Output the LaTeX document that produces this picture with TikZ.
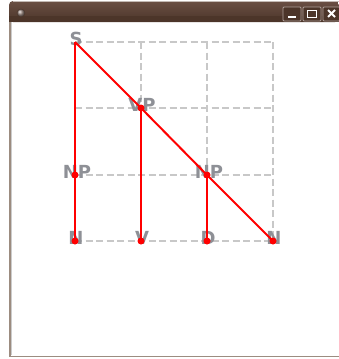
\documentclass[tikz,border=0pt]{standalone}
\usepackage{fontspec}
\setmainfont{DejaVu Sans}
\definecolor{barTop}{HTML}{6A4F44}
\definecolor{barBot}{HTML}{4C3529}
\definecolor{lblGray}{HTML}{8E9096}
\definecolor{gridGray}{HTML}{C8C8C8}
\definecolor{frameC}{HTML}{9C8C80}
\begin{document}
\begin{tikzpicture}[x=1pt,y=-1pt,
  lbl/.style={text=lblGray, font=\bfseries\fontsize{18}{18}\selectfont, inner sep=0pt},
  gridln/.style={draw=gridGray, line width=1.6pt, dash pattern=on 7pt off 3.5pt},
  edge/.style={draw=red, line width=2pt},
  dot/.style={fill=red, draw=none},
  btn/.style={draw=white!45!barTop, fill=barBot, line width=0.8pt, rounded corners=1pt}]
\useasboundingbox (0,0) rectangle (339,359);
\fill[white] (0,0) rectangle (339,359);
% window
\fill[white] (10,22) rectangle (339,357);
\draw[frameC, line width=1.2pt] (10,22) -- (10,356.5) -- (339,356.5);
\draw[gray!40, line width=0.8pt] (11.8,22) -- (11.8,355);
\shade[top color=barTop, bottom color=barBot, rounded corners=4pt]
  (9,1) rectangle (339,22);
\fill[barBot] (9,16) rectangle (339,22);
\draw[white!60!barTop, line width=0.6pt] (13,1.5) -- (339,1.5);
\shade[ball color=barTop!70!white, draw=barBot] (21,13) circle (4);
\draw[btn] (283,7) rectangle (301,21);
\draw[btn] (303,7) rectangle (321,21);
\draw[btn] (323,7) rectangle (340,21);
\draw[white, line width=1.6pt] (288,17) -- (296,17);
\draw[white, line width=1.3pt] (307.5,10.5) rectangle (316.5,17.5);
\draw[white, line width=1.8pt] (328,10) -- (335,17) (328,17) -- (335,10);
% grid
\foreach \yy in {42,108,175,241} \draw[gridln] (75,\yy) -- (273,\yy);
\foreach \xx in {141,207,273} \draw[gridln] (\xx,42) -- (\xx,241);
% nodes
\coordinate (S) at (75,42);
\coordinate (VP) at (141,108);
\coordinate (NP1) at (75,175);
\coordinate (NP2) at (207,175);
\coordinate (N1) at (75,241);
\coordinate (V) at (141,241);
\coordinate (D) at (207,241);
\coordinate (N2) at (273,241);
\node[lbl] (tS) at (76,39) {S};
\node[lbl] (tVP) at (142,105) {VP};
\node[lbl] (tNP1) at (77,172) {NP};
\node[lbl] (tNP2) at (209,172) {NP};
\node[lbl] (tN1) at (76,238) {N};
\node[lbl] (tV) at (142,238) {V};
\node[lbl] (tD) at (208,238) {D};
\node[lbl] (tN2) at (274,238) {N};
% edges
\draw[edge] (S) -- (NP1);
\draw[edge] (S) -- (VP);
\draw[edge] (NP1) -- (N1);
\draw[edge] (VP) -- (V);
\draw[edge] (VP) -- (NP2);
\draw[edge] (NP2) -- (D);
\draw[edge] (NP2) -- (N2);
\foreach \c in {VP,NP1,NP2,N1,V,D,N2} \fill[dot] (\c) circle (3.5);
\end{tikzpicture}
\end{document}
